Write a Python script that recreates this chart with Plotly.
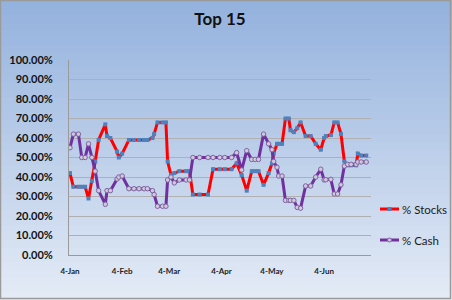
import plotly.graph_objects as go

dates = ["2010-01-04","2010-01-06","2010-01-09","2010-01-11","2010-01-13","2010-01-15","2010-01-17",
         "2010-01-19","2010-01-21","2010-01-25","2010-01-26","2010-01-28","2010-02-01","2010-02-02",
         "2010-02-04","2010-02-08","2010-02-11","2010-02-14","2010-02-17","2010-02-19","2010-02-22",
         "2010-02-23","2010-02-25","2010-02-28","2010-03-02","2010-03-03","2010-03-05","2010-03-07",
         "2010-03-10","2010-03-14","2010-03-16","2010-03-18","2010-03-22","2010-03-27","2010-03-30",
         "2010-04-03","2010-04-06","2010-04-10","2010-04-13","2010-04-16","2010-04-19","2010-04-22",
         "2010-04-24","2010-04-26","2010-04-29","2010-05-02","2010-05-04","2010-05-05","2010-05-07",
         "2010-05-08","2010-05-10","2010-05-12","2010-05-14","2010-05-15","2010-05-17","2010-05-19",
         "2010-05-21","2010-05-24","2010-05-27","2010-05-30","2010-06-02","2010-06-04","2010-06-05",
         "2010-06-08","2010-06-10","2010-06-12","2010-06-14","2010-06-16","2010-06-18","2010-06-20",
         "2010-06-23","2010-06-24","2010-06-26","2010-06-29"]

stocks = [42, 35, 35, 35, 35, 29, 38,
          48, 59, 67, 61, 60, 53, 50,
          52, 59, 59, 59, 59, 59, 60,
          62, 68, 68, 68, 48, 41, 42,
          43, 43, 43, 31, 31, 31, 44,
          44, 44, 44, 47, 41, 33, 43,
          43, 43, 36, 42, 47, 52, 57,
          57, 57, 70, 70, 64, 63, 65,
          68, 61, 61, 57, 54, 60, 61,
          61.5, 68, 68, 62, 48, 46, 46,
          46, 52, 51, 51]

cash = [55, 62, 62, 50, 50, 57, 50,
        43, 33, 26, 33, 33, 39, 40,
        40.5, 34, 34, 34, 34, 34, 33,
        31, 25, 25, 25, 38.5, 40, 37,
        38.5, 38.5, 38.5, 50, 50, 50, 50,
        50, 50, 50, 52.5, 43.6, 53.5, 49,
        49, 49, 62, 57, 54, 48, 45,
        40.5, 40.5, 28, 28, 28, 28, 24.4,
        24, 35.4, 35.4, 40, 44, 38.5, 38.6,
        38.8, 31.3, 31.3, 36, 45.6, 46.5, 46.5,
        46.5, 47.7, 47.7, 47.7]

y_ticks = [0, 10, 20, 30, 40, 50, 60, 70, 80, 90, 100]
y_tick_text = ["0.00%", "10.00%", "20.00%", "30.00%", "40.00%", "50.00%",
               "60.00%", "70.00%", "80.00%", "90.00%", "100.00%"]
x_tick_vals = ["2010-01-04", "2010-02-04", "2010-03-04", "2010-04-04", "2010-05-04", "2010-06-04"]
x_tick_text = ["4-Jan", "4-Feb", "4-Mar", "4-Apr", "4-May", "4-Jun"]

W, H = 452, 300
L, R, T, B = 69, 371, 60, 255  # plot area pixels

def px(x):
    return (x - L) / (R - L)

def py(y):
    return (B - y) / (B - T)

fig = go.Figure()
fig.add_trace(go.Scatter(
    x=dates, y=stocks, mode="lines+markers", name="% Stocks",
    line=dict(color="#FF0000", width=3),
    marker=dict(symbol="square", size=4, color="#4F81BD", line=dict(width=0)),
    showlegend=False))
fig.add_trace(go.Scatter(
    x=dates, y=cash, mode="lines+markers", name="% Cash",
    line=dict(color="#7030A0", width=3),
    marker=dict(symbol="circle", size=4.5, color="#D0C8DC", line=dict(color="#8064A2", width=1)),
    showlegend=False))

shapes = []
n = 40
c0 = (148, 178, 222)
c1 = (228, 235, 246)
for i in range(n):
    t = i / (n - 1)
    c = tuple(int(c0[k] + (c1[k] - c0[k]) * t) for k in range(3))
    y0 = i * H / n
    y1 = (i + 1) * H / n + 1
    shapes.append(dict(type="rect", xref="paper", yref="paper", layer="below",
                       x0=px(0), x1=px(W), y0=py(y1), y1=py(y0),
                       fillcolor="rgb(%d,%d,%d)" % c, line=dict(width=0)))
shapes.append(dict(type="rect", xref="paper", yref="paper", layer="above",
                   x0=px(0.5), x1=px(W - 1.5), y0=py(H - 1.5), y1=py(0.5),
                   line=dict(color="#9A9A9A", width=1.5)))
leg = [("% Stocks", 209, "#FF0000", "square", "#4F81BD"),
       ("% Cash", 240, "#7030A0", "circle", "#D0C8DC")]
annotations = []
for name, yy, lc, sym, mc in leg:
    shapes.append(dict(type="line", xref="paper", yref="paper", layer="above",
                       x0=px(380), x1=px(399), y0=py(yy), y1=py(yy),
                       line=dict(color=lc, width=3)))
    if sym == "square":
        shapes.append(dict(type="rect", xref="paper", yref="paper", layer="above",
                           x0=px(387.5), x1=px(391.5), y0=py(yy + 2), y1=py(yy - 2),
                           fillcolor=mc, line=dict(width=0)))
    else:
        shapes.append(dict(type="circle", xref="paper", yref="paper", layer="above",
                           x0=px(387.5), x1=px(391.5), y0=py(yy + 2), y1=py(yy - 2),
                           fillcolor=mc, line=dict(color="#8064A2", width=1)))
    annotations.append(dict(text=name, xref="paper", yref="paper", x=px(400), y=py(yy),
                            xanchor="left", yanchor="middle", showarrow=False,
                            font=dict(family="Lato", size=11.5, color="#1A1A1A")))

fig.update_layout(
    width=W, height=H,
    margin=dict(l=L, r=W - R, t=T, b=H - B, autoexpand=False),
    paper_bgcolor="rgba(0,0,0,0)",
    plot_bgcolor="#FFFFFF",
    title=dict(text="<b>Top 15</b>", x=0.5, xref="paper", y=1 - 19 / H, yanchor="middle",
               font=dict(family="Lato", size=17, color="#111111")),
    xaxis=dict(type="date", range=["2010-01-03 10:00", "2010-07-01 20:00"],
               tickvals=x_tick_vals, ticktext=x_tick_text, showgrid=False,
               showline=True, linecolor="#9A9A9A", linewidth=1, ticks="",
               tickfont=dict(family="Lato", size=8, color="#222222", weight="bold"),
               zeroline=False, fixedrange=True, ticklabelstandoff=8, automargin=False),
    yaxis=dict(range=[0, 100], tickvals=y_ticks, ticktext=y_tick_text,
               showgrid=True, gridcolor="#B0B0B0", gridwidth=1, showline=True,
               linecolor="#9A9A9A", linewidth=1, zeroline=False, ticks="",
               tickfont=dict(family="Lato", size=11, color="#111111", weight="bold"),
               ticklabelstandoff=13, automargin=False),
    shapes=shapes,
    annotations=annotations,
)

fig.write_html("out.html")
